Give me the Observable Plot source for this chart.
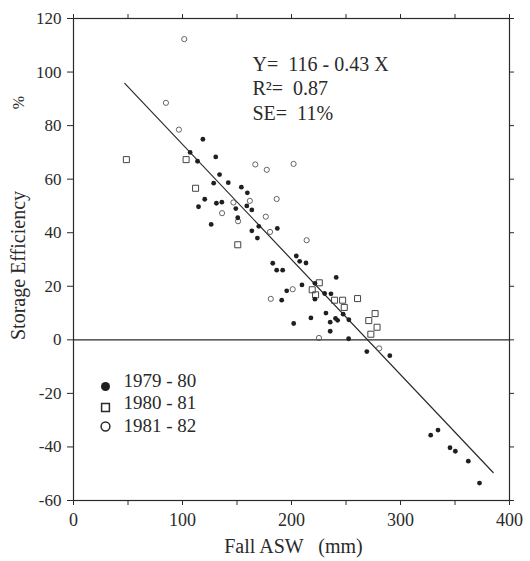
<!DOCTYPE html>
<html>
<head>
<meta charset="utf-8">
<script src="https://cdn.jsdelivr.net/npm/d3@7"></script>
<script src="https://cdn.jsdelivr.net/npm/@observablehq/plot@0.6"></script>
<style>
  html, body { margin: 0; padding: 0; background: #fff; }
  svg text { white-space: pre; }
  g[aria-label="ylabel"] text { letter-spacing: 1.6px; }
  g[aria-label="xlabel"] text { letter-spacing: 0.6px; }
  g[aria-label="stats"] text { letter-spacing: 0.8px; }
</style>
</head>
<body>
<div id="chart"></div>
<script>
// 1979-80 (filled circles): [Fall ASW mm, Storage efficiency %]
const s7980 = [
  [107,70],[113.8,66.7],[118.7,74.9],[130.5,68.3],[134,61.7],[128.6,58.5],[142,58.7],
  [120.4,52.5],[154,57],[159.5,54.9],[114.7,49.7],[131.1,51],[136.1,51.4],[159,50],
  [163.6,48.5],[148.9,49],[150.7,45.6],[126.3,43.1],[170,42.4],[187,41.6],[163.6,40.7],
  [168.7,38],[182.8,28.6],[186.4,26],[191.9,26],[195.6,18.3],[191,14.8],[204.4,31.3],
  [207.5,29.3],[213.3,28.7],[209.6,20.5],[221.5,21.1],[221.5,15.2],[217.8,8.2],[202,6.1],
  [230.4,17.3],[236.2,17.2],[241,23.3],[247.4,9.6],[231.6,10],[240.4,8],[242.3,7.3],
  [252.6,7.5],[235.5,6.6],[235.5,3.2],[252.4,0.4],[269.1,-4.4],[290.2,-5.9],
  [327.7,-35.6],[334.4,-33.7],[345.4,-40.3],[350.3,-41.6],[362.2,-45.3],[372.5,-53.5]
];
// 1980-81 (open squares)
const s8081 = [
  [48.5,67.3],[103.3,67.3],[112,56.6],[150.7,35.5],[219,18.7],[225.5,21.3],[222.1,16.8],
  [239.5,14.8],[246.9,14.8],[260.6,15.4],[248.4,12.1],[276.7,9.8],[270.9,7.2],
  [278.5,4.7],[272.8,2.1]
];
// 1981-82 (open circles)
const s8182 = [
  [101.6,112.3],[84.8,88.5],[96.7,78.5],[166.8,65.5],[177.3,63.5],[201.9,65.7],
  [186.4,52.6],[146.7,51.3],[161.8,51.9],[136.3,47.3],[151,44.3],[176.4,46],
  [180.3,40.3],[213.9,37.2],[181,15.3],[201.1,18.9],[225.2,0.7],[280.4,-3.2]
];
// regression Y = 116 - 0.43 X, drawn over this X range
const fitIntercept = 116;
const fitSlope = -0.43;
const fitRange = [47, 385];
const fitLabels = ["Y=  116 - 0.43 X", "R\u00B2=  0.87", "SE=  11%"];
const legendLabels = ["1979 - 80", "1980 - 81", "1981 - 82"];
const xTicks = [0, 50, 100, 150, 200, 250, 300, 350, 400];
const yTicks = [-60, -40, -20, 0, 20, 40, 60, 80, 100, 120];
const xLabel = "Fall ASW   (mm)";
const yLabel = "Storage Efficiency";
const yUnit = "%";

const fitLine = fitRange.map(x => ({x, y: fitIntercept + fitSlope * x}));
const toObj = a => a.map(([x, y]) => ({x, y}));

const ink = "#2a2a2a";
const font = "Liberation Serif, Times New Roman, serif";
const blank = () => "";

const statMarks = fitLabels.map((t, i) =>
  Plot.text([t], {frameAnchor: "top-left", dx: 179, dy: 38 + i * 24.5, ariaLabel: "stats",
    textAnchor: "start", fontSize: 20, fill: ink, text: d => d}));
const legendTextMarks = legendLabels.map((t, i) =>
  Plot.text([t], {frameAnchor: "bottom-left", dx: 50, dy: -114 + i * 22.5,
    textAnchor: "start", fontSize: 19, fill: ink, text: d => d}));

const chart = Plot.plot({
  width: 530,
  height: 561,
  marginLeft: 73,
  marginRight: 21,
  marginTop: 18,
  marginBottom: 61,
  x: {domain: [0, 400]},
  y: {domain: [-60, 120]},
  style: {fontFamily: font, fontSize: "17px", color: ink, background: "#fff"},
  marks: [
    Plot.frame({stroke: ink, strokeWidth: 1.2}),
    Plot.ruleY([0], {stroke: ink, strokeWidth: 1.2}),
    Plot.axisX({anchor: "bottom", ticks: xTicks, tickSize: 5, tickPadding: 8, fontSize: 18,
      tickFormat: d => d % 100 === 0 ? String(d) : "", label: null, stroke: ink, fill: ink}),
    Plot.axisX({anchor: "top", ticks: xTicks, tickSize: 5, tickFormat: blank, label: null, stroke: ink}),
    Plot.axisY({anchor: "left", ticks: yTicks, tickSize: 6, tickPadding: 6, fontSize: 17,
      tickFormat: d => String(d), label: null, stroke: ink, fill: ink}),
    Plot.axisY({anchor: "right", ticks: yTicks, tickSize: 4, tickFormat: blank, label: null, stroke: ink}),
    Plot.line(fitLine, {x: "x", y: "y", stroke: ink, strokeWidth: 1.2}),
    Plot.dot(toObj(s8182), {x: "x", y: "y", r: 2.6, stroke: "#555", strokeWidth: 0.9, fill: "none"}),
    Plot.dot(toObj(s8081), {x: "x", y: "y", symbol: "square", r: 3.4, stroke: "#444", strokeWidth: 1, fill: "none"}),
    Plot.dot(toObj(s7980), {x: "x", y: "y", r: 2.4, fill: "#1f1f1f", stroke: "none"}),
    ...statMarks,
    // legend
    Plot.dot([legendLabels[0]], {frameAnchor: "bottom-left", dx: 32, dy: -114, r: 4.5, fill: "#1f1f1f"}),
    Plot.dot([legendLabels[1]], {frameAnchor: "bottom-left", dx: 32, dy: -93, symbol: "square", r: 4.4, stroke: ink, fill: "none"}),
    Plot.dot([legendLabels[2]], {frameAnchor: "bottom-left", dx: 32, dy: -74, r: 4.4, stroke: ink, fill: "none"}),
    ...legendTextMarks,
    // axis titles
    Plot.text([xLabel], {frameAnchor: "bottom", dx: 2, dy: 52, fontSize: 20, fill: ink, ariaLabel: "xlabel", text: d => d}),
    Plot.text([yLabel], {frameAnchor: "left", textAnchor: "middle", dx: -55, dy: 6, rotate: -90, fontSize: 20, fill: ink, ariaLabel: "ylabel", text: d => d}),
    Plot.text([yUnit], {frameAnchor: "left", textAnchor: "middle", dx: -55, dy: -157, rotate: -90, fontSize: 16, fill: ink, text: d => d})
  ]
});
document.getElementById("chart").appendChild(chart);
</script>
</body>
</html>
